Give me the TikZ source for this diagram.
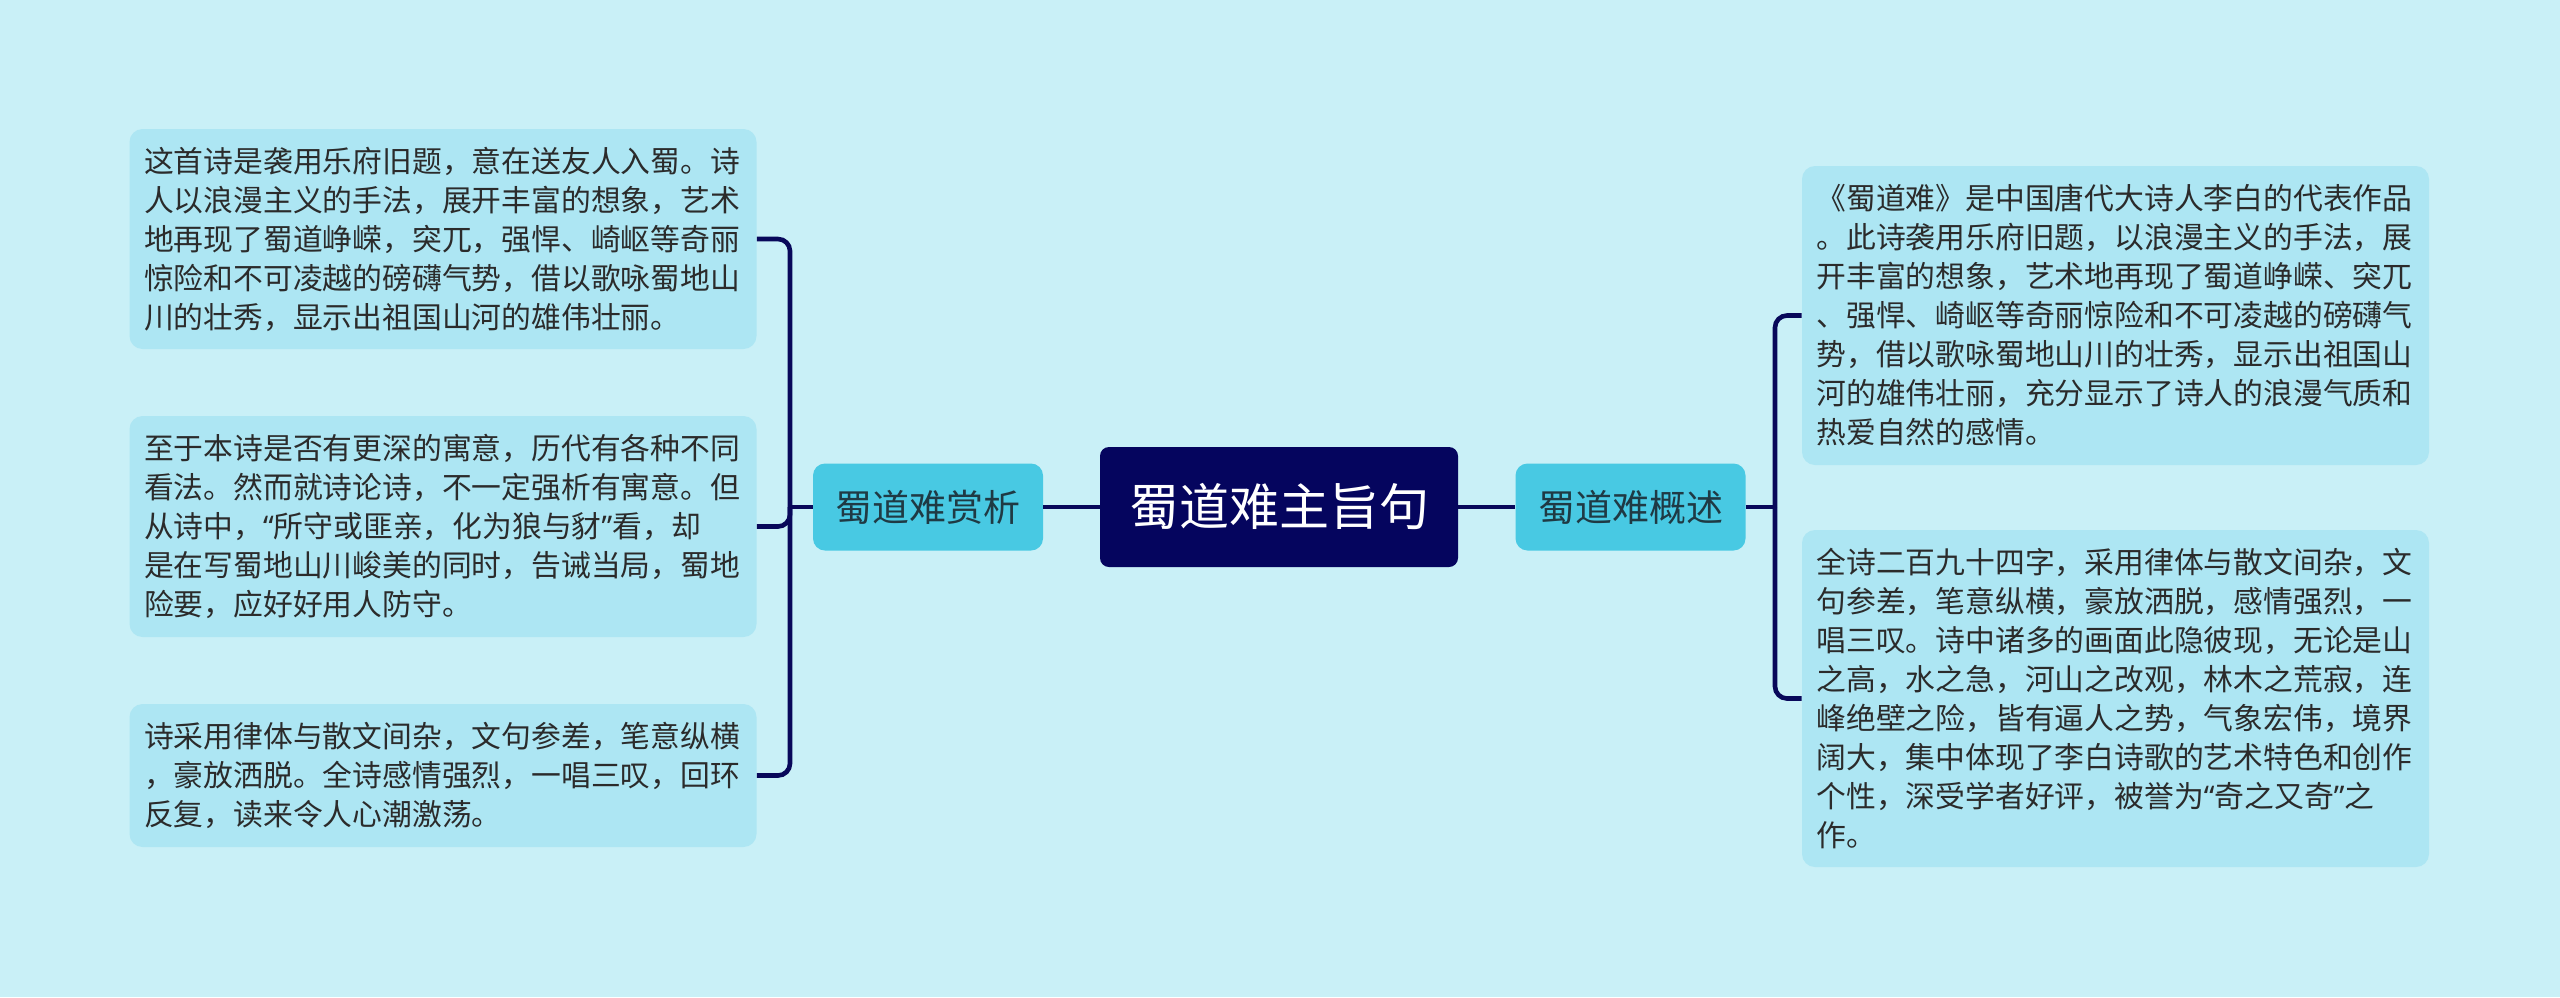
\documentclass[tikz,border=0pt]{standalone}
\usepackage{fontspec}
\setmainfont{Noto Sans CJK SC}
\newfontfamily\qf{Noto Sans}
\definecolor{bgc}{HTML}{C9F0F7}
\definecolor{leaffill}{HTML}{ADE6F3}
\definecolor{midfill}{HTML}{48C9E3}
\definecolor{rootfill}{HTML}{05055E}
\definecolor{linec}{HTML}{08085A}
\definecolor{leaftext}{HTML}{2B2B2B}
\definecolor{midtext}{HTML}{1F3A44}
\newcommand{\myLq}{{\qf “}}
\newcommand{\myRq}{{\qf ”}}
\begin{document}
\begin{tikzpicture}[x=0.5pt,y=-0.5pt,
  leafbox/.style={fill=leaffill, rounded corners=6.5pt, text=leaftext,
    font=\fontsize{14.9pt}{19.5pt}\selectfont, align=left, text width=299pt,
    inner xsep=7.25pt, inner ysep=0pt},
  midbox/.style={fill=midfill, rounded corners=6pt, text=midtext,
    font=\fontsize{18.5pt}{22pt}\selectfont, minimum width=115pt,
    minimum height=43.5pt, inner sep=0pt},
  rootbox/.style={fill=rootfill, rounded corners=4.5pt, text=white,
    font=\fontsize{25pt}{30pt}\selectfont, minimum width=179pt,
    minimum height=60pt, inner sep=0pt},
  conn/.style={draw=linec, line width=2.3pt, rounded corners=6pt}]
\fill[bgc] (0,0) rectangle (2560,997);
\useasboundingbox (0,0) rectangle (2560,997);

\node[rootbox] (root) at (1279,507) {蜀道难主旨句};
\node[midbox] (lmid) at (928,507) {蜀道难赏析};
\node[midbox] (rmid) at (1630.5,507) {蜀道难概述};

\node[leafbox, minimum height=110pt] (l1) at (443,239) {这首诗是袭用乐府旧题，意在送友人入蜀。诗\\
人以浪漫主义的手法，展开丰富的想象，艺术\\
地再现了蜀道峥嵘，突兀，强悍、崎岖等奇丽\\
惊险和不可凌越的磅礴气势，借以歌咏蜀地山\\
川的壮秀，显示出祖国山河的雄伟壮丽。};

\node[leafbox, minimum height=110.5pt] (l2) at (443,526.5) {至于本诗是否有更深的寓意，历代有各种不同\\
看法。然而就诗论诗，不一定强析有寓意。但\\
从诗中，\myLq 所守或匪亲，化为狼与豺\myRq 看，却\\
是在写蜀地山川峻美的同时，告诫当局，蜀地\\
险要，应好好用人防守。};

\node[leafbox, minimum height=71.5pt] (l3) at (443,775.5) {诗采用律体与散文间杂，文句参差，笔意纵横\\
，豪放洒脱。全诗感情强烈，一唱三叹，回环\\
反复，读来令人心潮激荡。};

\node[leafbox, minimum height=149.5pt] (r1) at (2115.5,315.5) {《蜀道难》是中国唐代大诗人李白的代表作品\\
。此诗袭用乐府旧题，以浪漫主义的手法，展\\
开丰富的想象，艺术地再现了蜀道峥嵘、突兀\\
、强悍、崎岖等奇丽惊险和不可凌越的磅礴气\\
势，借以歌咏蜀地山川的壮秀，显示出祖国山\\
河的雄伟壮丽，充分显示了诗人的浪漫气质和\\
热爱自然的感情。};

\node[leafbox, minimum height=168.5pt] (r2) at (2115.5,698.5) {全诗二百九十四字，采用律体与散文间杂，文\\
句参差，笔意纵横，豪放洒脱，感情强烈，一\\
唱三叹。诗中诸多的画面此隐彼现，无论是山\\
之高，水之急，河山之改观，林木之荒寂，连\\
峰绝壁之险，皆有逼人之势，气象宏伟，境界\\
阔大，集中体现了李白诗歌的艺术特色和创作\\
个性，深受学者好评，被誉为\myLq 奇之又奇\myRq 之\\
作。};

\coordinate (lj) at (790,507);
\coordinate (rj) at (1775,507);

\draw[conn] (root.west) -- (lmid.east);
\draw[conn] (root.east) -- (rmid.west);
\draw[conn] (lmid.west) -- (lj);
\draw[conn] (rmid.east) -- (rj);
\draw[conn] (lj) |- (l1.east);
\draw[conn] (lj) |- (l2.east);
\draw[conn] (lj) |- (l3.east);
\draw[conn] (rj) |- (r1.west);
\draw[conn] (rj) |- (r2.west);
\end{tikzpicture}
\end{document}
